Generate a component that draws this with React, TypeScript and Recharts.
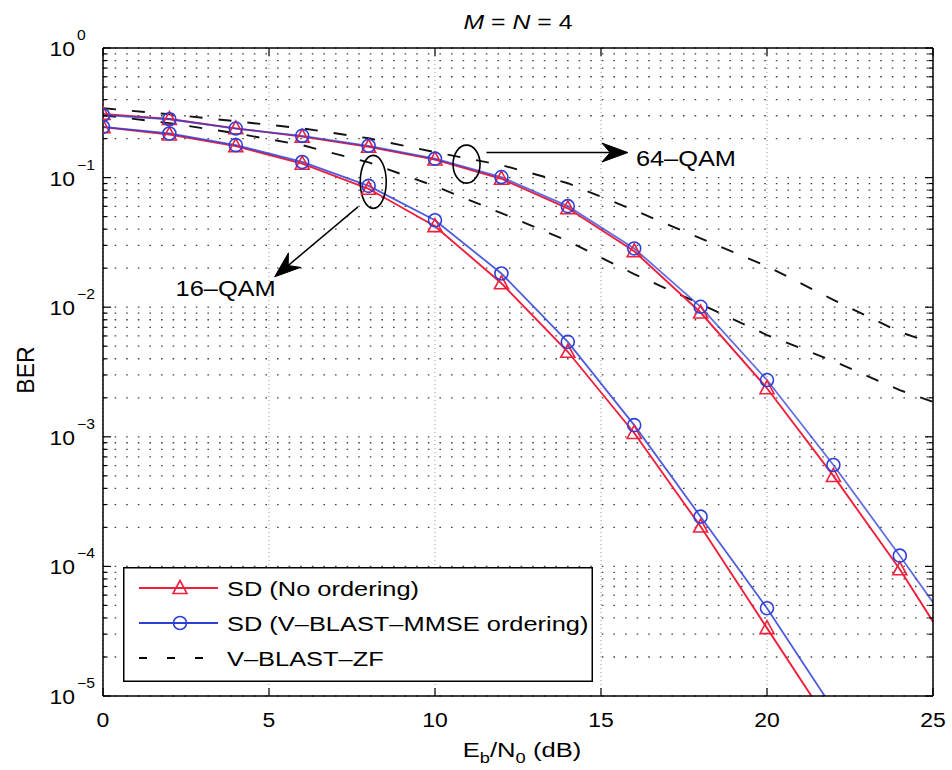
import React from 'react';
import { LineChart, Line, XAxis, YAxis, CartesianGrid, Legend, ReferenceDot, ReferenceLine } from 'recharts';

const FONT = '"Liberation Sans", Arial, Helvetica, sans-serif';
const RED = '#f0203c';
const BLUE = '#2e3fd6';

// ---- data (Eb/N0 in dB, BER) ----
const snr16 = [0, 2, 4, 6, 8, 10, 12, 14, 16, 18, 20, 22];
const sd16NoOrdering = [0.245, 0.215, 0.175, 0.128, 0.082, 0.0422, 0.0153, 0.00453, 0.00107, 2.03e-4, 3.34e-5, 5.5e-6];
const sd16Mmse = [0.246, 0.219, 0.178, 0.132, 0.0863, 0.0469, 0.0182, 0.0054, 0.00123, 2.42e-4, 4.76e-5, 7.9e-6];

const snr64 = [0, 2, 4, 6, 8, 10, 12, 14, 16, 18, 20, 22, 24, 26];
const sd64NoOrdering = [0.31, 0.283, 0.24, 0.207, 0.173, 0.138, 0.098, 0.058, 0.027, 0.0091, 0.00237, 4.99e-4, 9.5e-5, 1.48e-5];
const sd64Mmse = [0.303, 0.282, 0.239, 0.21, 0.176, 0.14, 0.101, 0.0602, 0.0284, 0.01007, 0.00274, 6.06e-4, 1.21e-4, 2.3e-5];

const snrZf = [0, 2, 4, 6, 8, 10, 12, 14, 16, 18, 20, 22, 24, 25];
const zf16 = [0.303, 0.263, 0.22, 0.178, 0.131, 0.0859, 0.0532, 0.0324, 0.018, 0.01057, 0.0061, 0.00384, 0.00229, 0.00186];
const zf64 = [0.343, 0.308, 0.272, 0.24, 0.201, 0.157, 0.125, 0.0905, 0.056, 0.034, 0.0207, 0.0114, 0.00643, 0.00528];

const xTicks = [0, 5, 10, 15, 20, 25];
const decadeExponents = [-5, -4, -3, -2, -1];
const minorMultipliers = [1, 2, 3, 4, 5, 6, 7, 8, 9];
const yTicks: number[] = [];
decadeExponents.forEach((e) => minorMultipliers.forEach((k) => yTicks.push(Number((k * Math.pow(10, e)).toPrecision(6)))));
yTicks.push(1);

const legendItems = ['SD (No ordering)', 'SD (V\u2013BLAST\u2013MMSE ordering)', 'V\u2013BLAST\u2013ZF'];

const toPoints = (xs: number[], ys: number[]) => xs.map((snr, i) => ({ snr, ber: ys[i] }));

const d16None = toPoints(snr16, sd16NoOrdering);
const d16Mmse = toPoints(snr16, sd16Mmse);
const d64None = toPoints(snr64, sd64NoOrdering);
const d64Mmse = toPoints(snr64, sd64Mmse);
const dZf16 = toPoints(snrZf, zf16);
const dZf64 = toPoints(snrZf, zf64);

const inView = (p: any) => p && p.payload && p.payload.snr <= 25 && p.payload.ber >= 1e-5 && isFinite(p.cx) && isFinite(p.cy);

const TriDot = (p: any) => {
  if (!inView(p)) return <g key={`t${p.index}`} />;
  const { cx, cy } = p;
  return (
    <polygon
      key={`t${p.index}`}
      points={`${cx},${cy - 7.5} ${cx - 7},${cy + 5.5} ${cx + 7},${cy + 5.5}`}
      fill="none"
      stroke={RED}
      strokeWidth={1.6}
    />
  );
};

const CircDot = (p: any) => {
  if (!inView(p)) return <g key={`c${p.index}`} />;
  return <circle key={`c${p.index}`} cx={p.cx} cy={p.cy} r={6.5} fill="none" stroke={BLUE} strokeWidth={1.6} />;
};

const SText = ({ x, y, sx = 1.2, anchor = 'start', size = 20, children }: any) => (
  <g transform={`translate(${x},${y}) scale(${sx},1)`}>
    <text x={0} y={0} textAnchor={anchor} fontSize={size} fontFamily={FONT} fill="#000">
      {children}
    </text>
  </g>
);

const isMajor = (v: number) => {
  const lg = Math.log10(v);
  return Math.abs(lg - Math.round(lg)) < 1e-6;
};

const LeftTick = (p: any) => {
  const { x, y, payload } = p;
  const v = payload.value;
  const major = isMajor(v);
  const e = Math.round(Math.log10(v));
  return (
    <g>
      <line x1={x} y1={y} x2={x + (major ? 8 : 4.5)} y2={y} stroke="#000" strokeWidth={1.2} />
      {major && (
        <>
          <SText x={x - 28} y={y + 8} sx={1.12} anchor="end" size={20.5}>10</SText>
          <SText x={x - 26} y={y - 8} sx={1.12} anchor="start" size={14}>{e === 0 ? '0' : `\u2212${-e}`}</SText>
        </>
      )}
    </g>
  );
};

const RightTick = (p: any) => {
  const { x, y, payload } = p;
  const major = isMajor(payload.value);
  return <line x1={x - (major ? 8 : 4.5)} y1={y} x2={x} y2={y} stroke="#000" strokeWidth={1.2} />;
};

const BottomTick = (p: any) => {
  const { x, y, payload } = p;
  return (
    <g>
      <line x1={x} y1={y} x2={x} y2={y - 8} stroke="#000" strokeWidth={1.2} />
      <SText x={x} y={y + 31} sx={1.12} anchor="middle" size={20.5}>{String(payload.value)}</SText>
    </g>
  );
};

const TopTick = (p: any) => {
  const { x, y } = p;
  return <line x1={x} y1={y} x2={x} y2={y + 8} stroke="#000" strokeWidth={1.2} />;
};

const makeEllipse = (rx: number, ry: number) => (p: any) => (
  <ellipse cx={p.cx} cy={p.cy} rx={rx} ry={ry} fill="none" stroke="#000" strokeWidth={1.6} />
);

const makeArrow = (text: string, dx: number, dy: number, anchor: string) => (p: any) => {
  const { x1, y1, x2, y2 } = p;
  const len = Math.hypot(x2 - x1, y2 - y1) || 1;
  const ux = (x2 - x1) / len;
  const uy = (y2 - y1) / len;
  const nx = -uy;
  const ny = ux;
  const L = 26;
  const W = 9.5;
  const pts = [
    [x2, y2],
    [x2 - L * ux + W * nx, y2 - L * uy + W * ny],
    [x2 - 0.68 * L * ux, y2 - 0.68 * L * uy],
    [x2 - L * ux - W * nx, y2 - L * uy - W * ny],
  ]
    .map((q) => q.join(','))
    .join(' ');
  return (
    <g>
      <line x1={x1} y1={y1} x2={x2 - 0.6 * L * ux} y2={y2 - 0.6 * L * uy} stroke="#000" strokeWidth={1.5} />
      <polygon points={pts} fill="#000" stroke="#000" strokeWidth={1} />
      <SText x={x2 + dx} y={y2 + dy} sx={1.18} anchor={anchor} size={21.5}>{text}</SText>
    </g>
  );
};

const LegendBox = () => {
  const rows = [21, 56, 91];
  return (
    <svg width={470} height={115} style={{ display: 'block' }}>
      <rect x={0.75} y={0.75} width={468.5} height={113.5} fill="#fff" stroke="#000" strokeWidth={1.5} />
      <line x1={16} x2={95} y1={rows[0]} y2={rows[0]} stroke={RED} strokeWidth={1.8} />
      <polygon points={`57,${rows[0] - 7.5} 50,${rows[0] + 5.5} 64,${rows[0] + 5.5}`} fill="none" stroke={RED} strokeWidth={1.6} />
      <line x1={16} x2={95} y1={rows[1]} y2={rows[1]} stroke={BLUE} strokeWidth={1.8} />
      <circle cx={57} cy={rows[1]} r={6.5} fill="none" stroke={BLUE} strokeWidth={1.6} />
      <line x1={16} x2={80} y1={rows[2]} y2={rows[2]} stroke="#000" strokeWidth={1.8} strokeDasharray="8 20" />
      {legendItems.map((t, i) => (
        <SText key={t} x={104} y={rows[i] + 7.5} sx={1.24} size={20.5}>{t}</SText>
      ))}
    </svg>
  );
};

export default function App() {
  return (
    <div style={{ position: 'fixed', left: 0, top: 0, width: 952, height: 770, background: '#fff' }}>
      <LineChart width={952} height={770} margin={{ top: 47, right: 18, bottom: 0, left: 0 }}>
        <CartesianGrid horizontal={true} vertical={false} stroke="#444" strokeDasharray="1.6 10" strokeWidth={1.3} />
        <CartesianGrid horizontal={false} vertical={true} stroke="#9a9a9a" strokeDasharray="1 3" strokeWidth={1} />
        <XAxis
          xAxisId={0}
          dataKey="snr"
          type="number"
          domain={[0, 25]}
          ticks={xTicks}
          interval={0}
          allowDataOverflow
          height={74}
          tickSize={0}
          tickMargin={0}
          tickLine={false}
          axisLine={{ stroke: '#000', strokeWidth: 1.5 }}
          tick={BottomTick}
        />
        <XAxis
          xAxisId="top"
          dataKey="snr"
          type="number"
          orientation="top"
          domain={[0, 25]}
          ticks={xTicks}
          interval={0}
          allowDataOverflow
          height={1}
          tickSize={0}
          tickMargin={0}
          tickLine={false}
          axisLine={{ stroke: '#000', strokeWidth: 1.5 }}
          tick={TopTick}
        />
        <YAxis
          yAxisId={0}
          type="number"
          scale="log"
          domain={[1e-5, 1]}
          ticks={yTicks}
          interval={0}
          allowDataOverflow
          width={103}
          tickSize={0}
          tickMargin={0}
          tickLine={false}
          axisLine={{ stroke: '#000', strokeWidth: 1.5 }}
          tick={LeftTick}
        />
        <YAxis
          yAxisId="right"
          orientation="right"
          type="number"
          scale="log"
          domain={[1e-5, 1]}
          ticks={yTicks}
          interval={0}
          allowDataOverflow
          width={1}
          tickSize={0}
          tickMargin={0}
          tickLine={false}
          axisLine={{ stroke: '#000', strokeWidth: 1.5 }}
          tick={RightTick}
        />

        <Line data={dZf16} dataKey="ber" type="linear" stroke="#111" strokeWidth={1.9} strokeDasharray="13 16" dot={false} isAnimationActive={false} legendType="none" />
        <Line data={dZf64} dataKey="ber" type="linear" stroke="#111" strokeWidth={1.9} strokeDasharray="13 16" dot={false} isAnimationActive={false} legendType="none" />
        <Line data={d16None} dataKey="ber" type="linear" stroke={RED} strokeWidth={1.9} dot={TriDot} isAnimationActive={false} legendType="none" />
        <Line data={d64None} dataKey="ber" type="linear" stroke={RED} strokeWidth={1.9} dot={TriDot} isAnimationActive={false} legendType="none" />
        <Line data={d16Mmse} dataKey="ber" type="linear" stroke={BLUE} strokeOpacity={0.85} strokeWidth={1.8} dot={CircDot} isAnimationActive={false} legendType="none" />
        <Line data={d64Mmse} dataKey="ber" type="linear" stroke={BLUE} strokeOpacity={0.75} strokeWidth={1.8} dot={CircDot} isAnimationActive={false} legendType="none" />

        <ReferenceDot x={8.14} y={0.0927} r={1} ifOverflow="visible" shape={makeEllipse(13, 26.5)} />
        <ReferenceDot x={10.95} y={0.127} r={1} ifOverflow="visible" shape={makeEllipse(13.5, 19)} />
        <ReferenceLine segment={[{ x: 11.55, y: 0.1561 }, { x: 15.81, y: 0.1561 }]} ifOverflow="visible" shape={makeArrow('64\u2013QAM', 8, 13.5, 'start')} />
        <ReferenceLine segment={[{ x: 7.68, y: 0.0594 }, { x: 5.17, y: 0.01715 }]} ifOverflow="visible" shape={makeArrow('16\u2013QAM', 1, 19, 'end')} />

        <Legend
          content={LegendBox}
          layout="horizontal"
          verticalAlign="middle"
          align="center"
          wrapperStyle={{ left: 123, top: 567, width: 470, height: 115 }}
        />
      </LineChart>
      <svg width={952} height={770} style={{ position: 'absolute', left: 0, top: 0, pointerEvents: 'none' }}>
        <g transform="translate(518,29) scale(1.24,1)">
          <text x={0} y={0} textAnchor="middle" fontSize={20} fontFamily={FONT} fill="#000">
            <tspan fontStyle="italic">M</tspan> = <tspan fontStyle="italic">N</tspan> = 4
          </text>
        </g>
        <g transform="translate(522,757) scale(1.22,1)">
          <text x={0} y={0} textAnchor="middle" fontSize={21} fontFamily={FONT} fill="#000">
            E<tspan fontSize={15} dy={6}>b</tspan>
            <tspan dy={-6}>/N</tspan>
            <tspan fontSize={15} dy={6}>0</tspan>
            <tspan dy={-6}> (dB)</tspan>
          </text>
        </g>
        <g transform="translate(33.5,370) rotate(-90)">
          <text x={0} y={0} textAnchor="middle" fontSize={23} fontFamily={FONT} fill="#000">BER</text>
        </g>
      </svg>
    </div>
  );
}
